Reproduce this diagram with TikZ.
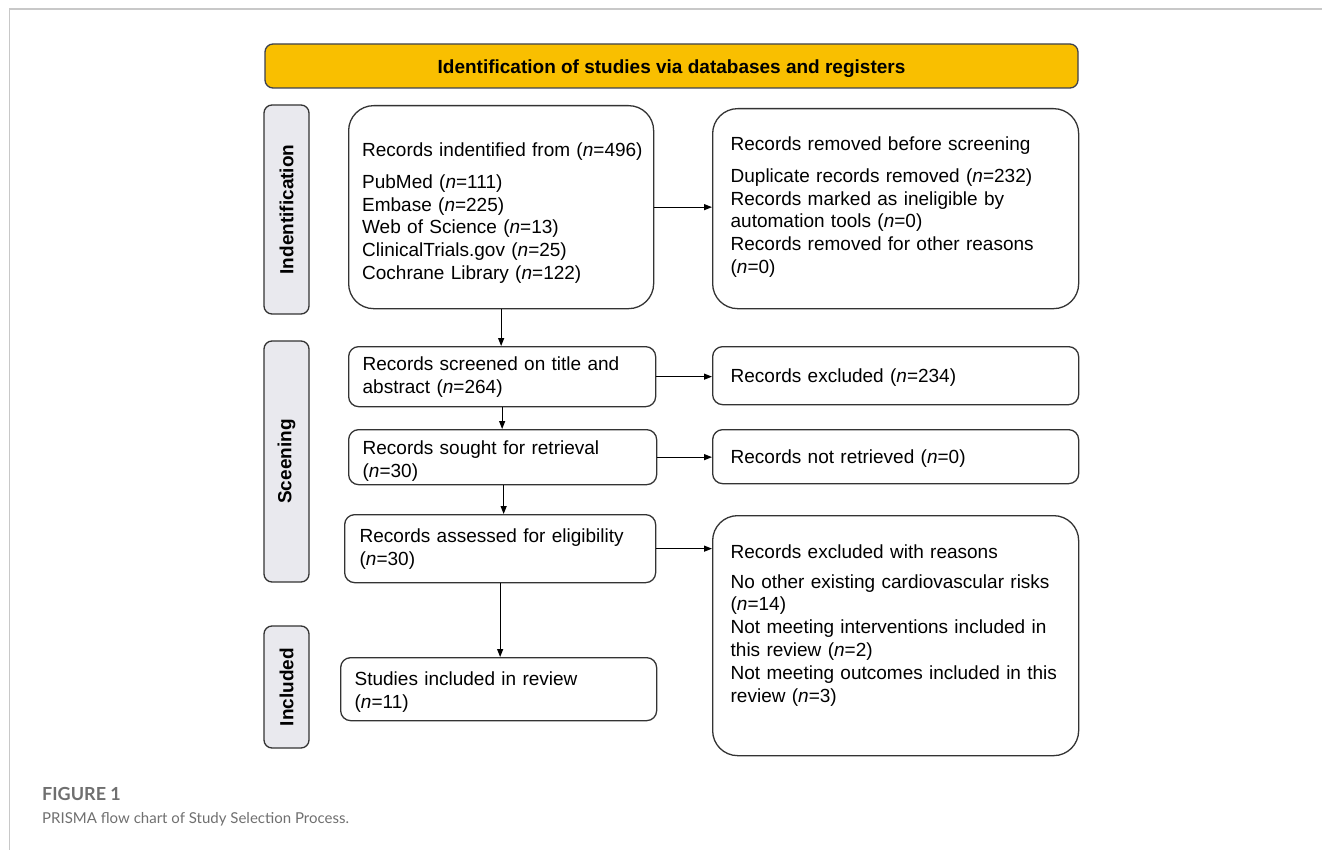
\documentclass[tikz,border=0pt]{standalone}
\usepackage{fontspec}
\setmainfont{Liberation Sans}
\newfontfamily\capfont{Lato}
\usetikzlibrary{arrows.meta}
\definecolor{bannerY}{HTML}{F9BF00}
\definecolor{bannerB}{HTML}{3C4150}
\definecolor{sideG}{HTML}{E9E9EE}
\definecolor{lineG}{HTML}{333333}
\definecolor{capG}{HTML}{6F6F6F}
\definecolor{frameG}{HTML}{C8C8C8}
\newcommand{\topstrut}[1]{\rule{0pt}{#1pt}}
\newcommand{\botstrut}[1]{\rule[-#1pt]{0pt}{#1pt}}
\begin{document}
\begin{tikzpicture}[x=1pt,y=-1pt,
  every node/.style={font=\fontsize{19}{22.8}\selectfont},
  box/.style={draw=lineG, line width=1.3pt, fill=white, align=left,
    anchor=north west, inner ysep=0pt},
  bigr/.style={rounded corners=25pt},
  smallr/.style={rounded corners=10pt},
  side/.style={draw=lineG, line width=1.3pt, fill=sideG, rounded corners=8pt,
    rotate=90, font=\fontsize{19}{22.8}\selectfont\bfseries, minimum height=45pt, inner sep=0pt},
  arr/.style={-{Triangle[length=8pt,width=6pt]}, line width=1.1pt, black},
  captext/.style={anchor=base west, inner sep=0pt, text=capG}
]
\useasboundingbox (0,0) rectangle (1322,850);
% frame
\draw[frameG, line width=2pt] (9,9.5) -- (1322,9.5);
\draw[frameG, line width=1pt] (9.5,9) -- (9.5,850);

% banner
\node[draw=bannerB, line width=1.3pt, fill=bannerY, rounded corners=8pt,
  minimum width=813pt, minimum height=44pt, inner sep=0pt,
  font=\fontsize{19}{22.8}\selectfont\bfseries] (banner) at (671.5,66)
  {\raisebox{-3pt}[\height][\depth]{Identification of studies via databases and registers}};

% side labels
\node[side, minimum width=209pt] (sideid) at (286.5,209.5) {Indentification};
\node[side, minimum width=241pt] (sidesc) at (286.5,461.5) {Sceening};
\node[side, minimum width=122pt] (sidein) at (286.5,687) {Included};

% left column
\node[box, bigr, minimum width=305pt, minimum height=203pt, inner xsep=13.5pt, text width=278pt]
  (ident) at (348,105)
  {\topstrut{26}\mbox{Records indentified from (\textit{n}=496)}\\[8.5pt]
   PubMed (\textit{n}=111)\\
   Embase (\textit{n}=225)\\
   Web of Science (\textit{n}=13)\\
   ClinicalTrials.gov (\textit{n}=25)\\
   Cochrane Library (\textit{n}=122)};
\node[box, smallr, minimum width=307pt, minimum height=60pt, inner xsep=14pt, text width=279pt]
  (screen) at (348,346)
  {\topstrut{15}Records screened on title and\\ abstract (\textit{n}=264)};
\node[box, smallr, minimum width=308pt, minimum height=55pt, inner xsep=14pt, text width=280pt]
  (sought) at (348,429)
  {\topstrut{21.5}Records sought for retrieval\\ (\textit{n}=30)};
\node[box, smallr, minimum width=311pt, minimum height=68pt, inner xsep=15pt, text width=281pt]
  (assess) at (344,514)
  {\topstrut{15}Records assessed for eligibility\\ (\textit{n}=30)};
\node[box, smallr, minimum width=316pt, minimum height=63pt, inner xsep=14pt, text width=288pt]
  (incl) at (340,657)
  {\topstrut{20}Studies included in review\\ (\textit{n}=11)};

% right column
\node[box, bigr, minimum width=366pt, minimum height=200pt, inner xsep=18pt, text width=330pt]
  (removed) at (712,108)
  {Records removed before screening\\[9.5pt]
   Duplicate records removed (\textit{n}=232)\\
   Records marked as ineligible by\\
   automation tools (\textit{n}=0)\\
   Records removed for other reasons\\
   (\textit{n}=0)\botstrut{7.5}};
\node[box, smallr, minimum width=366pt, minimum height=58pt, inner xsep=18pt, text width=330pt]
  (excl) at (712,346)
  {\topstrut{18}Records excluded (\textit{n}=234)};
\node[box, smallr, minimum width=366pt, minimum height=54pt, inner xsep=18pt, text width=330pt]
  (notret) at (712,429)
  {\topstrut{18}Records not retrieved (\textit{n}=0)};
\node[box, bigr, minimum width=366pt, minimum height=240pt, inner xsep=18pt, text width=330pt]
  (reasons) at (712,515)
  {Records excluded with reasons\\[6.5pt]
   No other existing cardiovascular risks\\
   (\textit{n}=14)\\
   Not meeting interventions included in\\
   this review (\textit{n}=2)\\
   Not meeting outcomes included in this\\
   review (\textit{n}=3)\botstrut{24}};

% connectors
\draw[arr] (ident.south) -- (ident.south |- screen.north);
\draw[arr] (screen.south) -- (screen.south |- sought.north);
\draw[arr] ([xshift=1pt]sought.south) -- ([xshift=1pt]sought.south |- assess.north);
\draw[arr] (assess.south) -- (assess.south |- incl.north);
\draw[arr] (ident.east) -- (ident.east -| removed.west);
\draw[arr] (screen.east) -- (screen.east -| excl.west);
\draw[arr] (sought.east) -- (sought.east -| notret.west);
\draw[arr] (assess.east) -- (assess.east -| reasons.west);

% caption
\node[captext, font=\capfont\fontsize{18}{20}\selectfont\bfseries] (figlab) at (42,800) {FIGURE 1};
\node[captext, font=\capfont\fontsize{15}{20}\selectfont] (figcap) at (42,823) {PRISMA flow chart of Study Selection Process.};
\end{tikzpicture}
\end{document}
